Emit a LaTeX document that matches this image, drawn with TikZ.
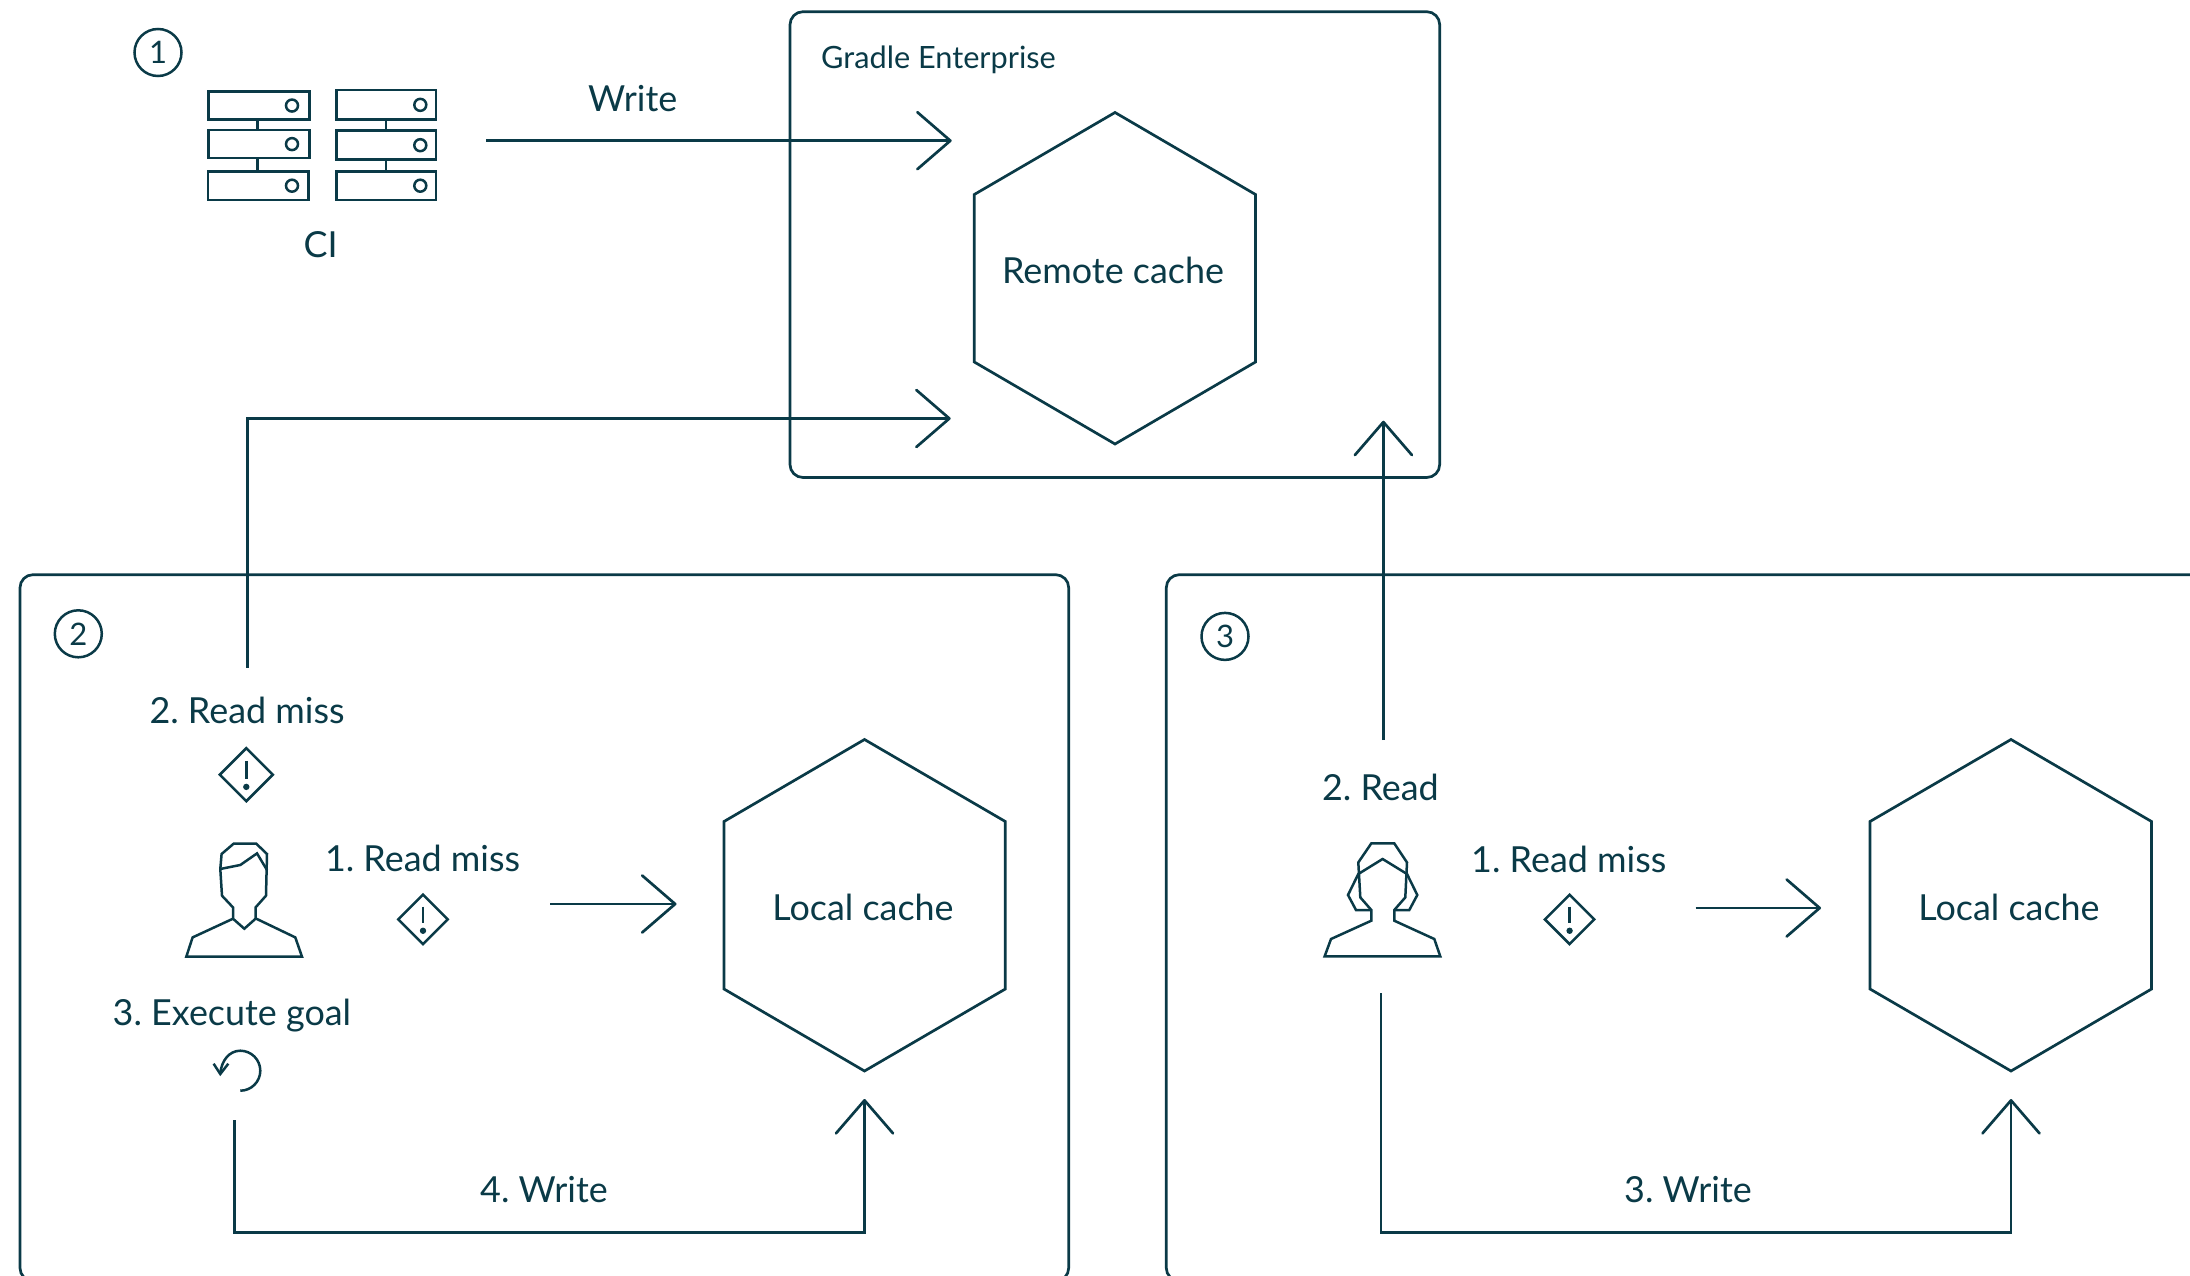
\documentclass[tikz,border=0pt]{standalone}
\usepackage{fontspec}
\setmainfont{Lato}
\frenchspacing
\usetikzlibrary{arrows.meta}
\definecolor{ink}{HTML}{0A3A47}
\tikzset{
  line/.style={draw=ink,line width=2.7pt,line join=miter},
  thin line/.style={draw=ink,line width=2.5pt,line join=miter},
  conn/.style={line,-{Straight Barb[length=33pt,width=57pt,line width=2.7pt,round]}},
  frame/.style={line,rounded corners=13pt},
  lbl/.style={text=ink,font=\fontsize{35.9}{40}\selectfont,inner sep=0pt,anchor=base},
  lblw/.style={text=ink,font=\fontsize{35.9}{40}\selectfont,inner sep=0pt,anchor=base west},
  num/.style={circle,draw=ink,line width=2.5pt,minimum size=47pt,inner sep=0pt,text=ink,font=\fontsize{31}{36}\selectfont},
}
\newcommand{\warnicon}[3]{% cx cy half
  \draw[thin line] (#1,#2-#3) -- (#1+#3,#2) -- (#1,#2+#3) -- (#1-#3,#2) -- cycle;
  \draw[thin line] (#1,#2-#3*0.52) -- (#1,#2+#3*0.16);
  \fill[ink] (#1,#2+#3*0.46) circle[radius=3.2pt];
}
\newcommand{\srv}[5]{% x1 y1 x2 y2 cx
  \draw[thin line] (#1,#2) rectangle (#3,#4);
  \draw[thin line] (#5,{(#2+#4)/2}) circle[radius=6pt];
}
\begin{document}
\begin{tikzpicture}[x=1pt,y=-1pt]
\path[use as bounding box,clip] (0,0) rectangle (2190,1276);

% frames
\draw[frame] (790,11.7) rectangle (1439.7,477.5);
\draw[frame] (20,574.7) rectangle (1068.7,1281);
\draw[frame] (1166.3,574.7) rectangle (2230,1281);

% hexagons
\draw[line] (1115,112.5) -- (1255.5,194.5) -- (1255.5,362) -- (1115,444) -- (974.3,362) -- (974.3,194.5) -- cycle;
\draw[line] (864.5,739.5) -- (1005.3,821.5) -- (1005.3,989) -- (864.5,1071) -- (724,989) -- (724,821.5) -- cycle;
\draw[line] (2011,739.5) -- (2151.5,821.5) -- (2151.5,989) -- (2011,1071) -- (1870,989) -- (1870,821.5) -- cycle;

% connector ends
\coordinate (ciOut) at (486,140.7);
\coordinate (remoteW) at (951.7,140.7);
\coordinate (miss2) at (247.5,667.6);
\coordinate (remoteR) at (950.7,418.5);
\coordinate (read3) at (1383.4,740);
\coordinate (remoteB) at (1383.4,420.7);
\coordinate (user2) at (550,904);
\coordinate (local2) at (676.5,904);
\coordinate (user3) at (1695.6,908);
\coordinate (local3) at (1821,908);
\coordinate (goal) at (234.6,1120);
\coordinate (local2b) at (864.5,1099);
\coordinate (user3b) at (1381,993);
\coordinate (local3b) at (2011,1099);

\draw[conn] (ciOut) -- (remoteW);
\draw[conn] (miss2) |- (remoteR);
\draw[conn] (read3) -- (remoteB);
\draw[conn] (user2) -- (local2);
\draw[conn] (user3) -- (local3);
\draw[conn] (goal) -- (234.6,1232.5) -- (864.5,1232.5) -- (local2b);
\draw[conn] (user3b) -- (1381,1232.5) -- (2011,1232.5) -- (local3b);

% numbered circles
\node[num] (n1) at (158,52.5) {1};
\node[num] (n2) at (78.3,633.8) {2};
\node[num] (n3) at (1225,636.4) {3};

\begin{scope}[shift={(0.3,0.7)}]
% servers
\srv{208.3}{90.7}{309.3}{119}{291.7}
\srv{208.3}{129.3}{309.3}{157.5}{291.7}
\srv{207.7}{170.7}{308}{199.3}{291.7}
\draw[thin line] (257.3,119) -- (257.3,129.3) (257.3,157.5) -- (257.3,170.7);
\srv{336}{89.3}{435.7}{119}{420}
\srv{336}{130}{435.7}{159}{420}
\srv{336}{170.7}{435.7}{199.3}{420}
\draw[thin line] (385.7,119) -- (385.7,130) (385.7,159) -- (385.7,170.7);

% person 2
\draw[thin line] (233.3,843) -- (256,843) -- (266.7,853.3) -- (265.7,895) -- (255.3,906.7) -- (255.3,918) -- (244,928) -- (232.7,918) -- (232.7,906.7) -- (221.7,895) -- (220,868.3) -- (221.3,853.3) -- cycle;
\draw[thin line] (220,868.3) -- (240,864.3) -- (256.7,852.7) -- (266.7,869.3);
\draw[thin line] (232.7,918) -- (192.3,936.7) -- (186,956) -- (301.7,956) -- (295,936.7) -- (256,918);

% person 3
\draw[thin line] (1371,842.7) -- (1394,842.7) -- (1406.7,861.7) -- (1405,896.7) -- (1394,909.3) -- (1394,920) -- (1434,938.3) -- (1440,955.7) -- (1324.3,955.7) -- (1330.7,938.3) -- (1371,920) -- (1371,909.3) -- (1360,896.7) -- (1358,861.7) -- cycle;
\draw[thin line] (1371,909.3) -- (1355.7,909.3) -- (1347.7,894.3) -- (1358,873.3) -- (1382.3,858.3) -- (1406.7,873.3) -- (1417,894.3) -- (1409,909.3) -- (1394,909.3);

% warning icons
\warnicon{246}{774}{26.5}
\warnicon{422.7}{918.7}{24.7}
\warnicon{1569.3}{918.7}{24.7}

% loop icon
\draw[thin line] (240,1090) .. controls (251,1090) and (260,1081) .. (260,1070) .. controls (260,1059) and (251,1050) .. (240,1050) .. controls (229,1050) and (221,1060) .. (220,1073);
\draw[thin line] (213.3,1063) -- (220,1073.3) -- (228,1063);
\end{scope}

% text
\node[lbl] (tWrite) at (632.7,112) {Write};
\node[lbl] (tCI) at (320.7,258) {CI};
\node[lblw,font=\fontsize{30.7}{36}\selectfont] (tGE) at (821,68.6) {Gradle Enterprise};
\node[lbl] (tRemote) at (1113,283.5) {Remote cache};
\node[lbl] (tLocalA) at (863,920.7) {Local cache};
\node[lbl] (tLocalB) at (2009,920.7) {Local cache};
\node[lblw] (tMiss2) at (149.3,723.7) {2. Read miss};
\node[lblw] (tMiss1) at (324.8,871.7) {1. Read miss};
\node[lblw] (tExec) at (112.5,1025.5) {3. Execute goal};
\node[lbl] (tW4) at (544,1202) {4. Write};
\node[lblw] (tRead) at (1321.8,800.3) {2. Read};
\node[lblw] (tMiss3) at (1471,872) {1. Read miss};
\node[lbl] (tW3) at (1688,1202) {3. Write};
\end{tikzpicture}
\end{document}
